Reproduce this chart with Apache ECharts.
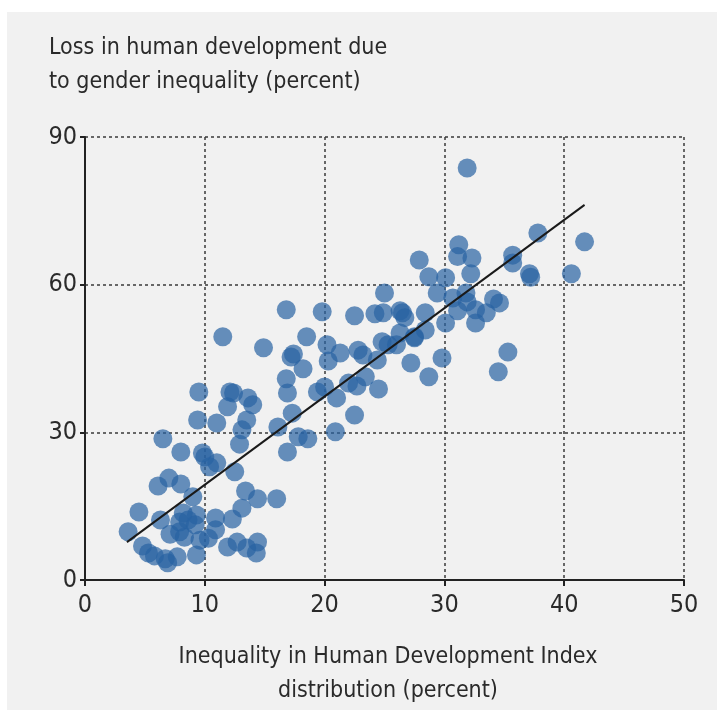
<!DOCTYPE html>
<html>
<head>
<meta charset="utf-8">
<script src="https://cdn.jsdelivr.net/npm/echarts@6/dist/echarts.min.js"></script>
<style>
  html, body { margin: 0; padding: 0; background: #fff; }
  #chart { width: 717px; height: 713px; }
</style>
</head>
<body>
<div id="chart"></div>
<script>
// inequality in HDI (x) vs loss due to gender inequality (y), percent
const points = [
  [31.9,83.7],[37.8,70.5],[41.7,68.7],[31.2,68.1],[27.9,65.0],[31.1,65.7],[32.3,65.4],[35.7,66.0],
  [35.7,64.4],[28.7,61.6],[30.1,61.4],[32.2,62.2],[37.1,62.2],[37.2,61.5],[40.6,62.2],[29.4,58.3],
  [30.7,57.3],[31.8,58.3],[31.9,56.5],[34.1,57.1],[34.6,56.3],[26.5,54.3],[28.4,54.3],[31.1,54.7],
  [32.6,54.9],[33.5,54.3],[32.6,52.2],[30.1,52.2],[28.4,50.8],[27.5,49.4],[27.2,44.1],[29.8,45.1],
  [28.7,41.3],[35.3,46.3],[34.5,42.3],
  [16.8,54.9],[19.8,54.5],[25.0,58.3],[22.5,53.7],[24.2,54.1],[24.9,54.3],[26.3,54.7],[26.7,53.3],
  [18.5,49.4],[14.9,47.2],[17.4,45.9],[17.2,45.3],[20.2,47.8],[20.3,44.5],[21.3,46.1],[22.8,46.7],
  [23.2,45.7],[24.8,48.4],[25.3,47.8],[26.0,47.8],[24.4,44.7],[26.3,50.2],[27.5,49.2],[18.2,42.9],
  [16.8,40.9],[16.9,38.0],[19.4,38.2],[20.0,39.2],[22.0,40.0],[22.7,39.4],[23.4,41.3],[24.5,38.8],
  [21.0,37.0],[17.3,33.9],[22.5,33.5],[16.1,31.1],[17.8,29.1],[18.6,28.7],[20.9,30.1],[16.9,26.0],
  [11.5,49.4],[9.5,38.2],[12.1,38.2],[12.4,38.0],[13.6,37.0],[11.9,35.2],[14.0,35.6],[13.5,32.5],
  [9.4,32.5],[11.0,31.9],[13.1,30.5],[12.9,27.6],[6.5,28.7],[8.0,26.0],[9.8,25.8],[10.0,25.0],
  [10.4,23.0],[11.0,23.8],[12.5,22.0],
  [6.1,19.1],[7.0,20.7],[8.0,19.5],[9.0,16.9],[13.4,18.1],[14.4,16.5],[16.0,16.5],[4.5,13.8],
  [3.6,9.8],[6.3,12.2],[7.9,11.8],[8.6,12.2],[9.3,13.2],[10.9,12.6],[12.3,12.4],[13.1,14.6],
  [7.1,9.3],[7.9,9.8],[8.3,8.7],[9.6,8.1],[10.9,10.2],[9.2,11.2],[4.8,6.9],[5.3,5.5],
  [5.8,4.9],[6.7,4.3],[6.9,3.5],[7.7,4.7],[9.3,5.1],[11.9,6.7],[12.7,7.7],[13.5,6.5],
  [14.4,7.7],[14.3,5.5],[8.2,13.6],[10.3,8.5]
]

// fitted trend line end points
const trendX = [3.5, 41.7]
const trendY = [7.7, 76.2]

const xTicks = [0, 10, 20, 30, 40, 50]
const yTicks = [0, 30, 60, 90]

const font = '"Liberation Sans Narrow", "DejaVu Sans Condensed", "Roboto", sans-serif'
const textColor = '#2a2a2a'
const gridLine = { show: true, lineStyle: { color: '#3a3a3a', type: [3, 3], width: 1.5 } }

const myChart = echarts.init(document.getElementById('chart'))
myChart.setOption({
  animation: false,
  backgroundColor: '#ffffff',
  graphic: [{
    type: 'rect', z: -10, silent: true,
    shape: { x: 7, y: 12, width: 710, height: 698 },
    style: { fill: '#f1f1f1' }
  }],
  title: [
    {
      text: 'Loss in human development due\nto gender inequality (percent)',
      left: 44, top: 26,
      textStyle: { fontFamily: font, fontSize: 23, fontWeight: 'normal', color: textColor, lineHeight: 34 }
    },
    {
      text: 'Inequality in Human Development Index\ndistribution (percent)',
      left: 383, top: 635, textAlign: 'center',
      textStyle: { fontFamily: font, fontSize: 23, fontWeight: 'normal', color: textColor, lineHeight: 34 }
    }
  ],
  grid: { left: 85, right: 33, top: 137, bottom: 133 },
  xAxis: {
    type: 'value', min: xTicks[0], max: xTicks[xTicks.length - 1], interval: 10,
    axisLine: { show: true, onZero: false, lineStyle: { color: '#222', width: 2 } },
    axisTick: { show: true, length: 6, lineStyle: { color: '#222', width: 2 } },
    axisLabel: { fontFamily: font, fontSize: 25, color: textColor, margin: 13 },
    splitLine: gridLine
  },
  yAxis: {
    type: 'value', min: yTicks[0], max: yTicks[yTicks.length - 1], interval: 30,
    axisLine: { show: true, onZero: false, lineStyle: { color: '#222', width: 2 } },
    axisTick: { show: true, length: 5, lineStyle: { color: '#222', width: 2 } },
    axisLabel: { fontFamily: font, fontSize: 25, color: textColor, margin: 8 },
    splitLine: gridLine
  },
  series: [
    {
      type: 'scatter',
      data: points,
      symbolSize: 19,
      itemStyle: { color: 'rgba(40,98,162,0.88)' },
      z: 2
    },
    {
      type: 'line',
      data: trendX.map((x, i) => [x, trendY[i]]),
      symbol: 'none',
      lineStyle: { color: '#1a1a1a', width: 2 },
      z: 3
    }
  ]
})
</script>
</body>
</html>
